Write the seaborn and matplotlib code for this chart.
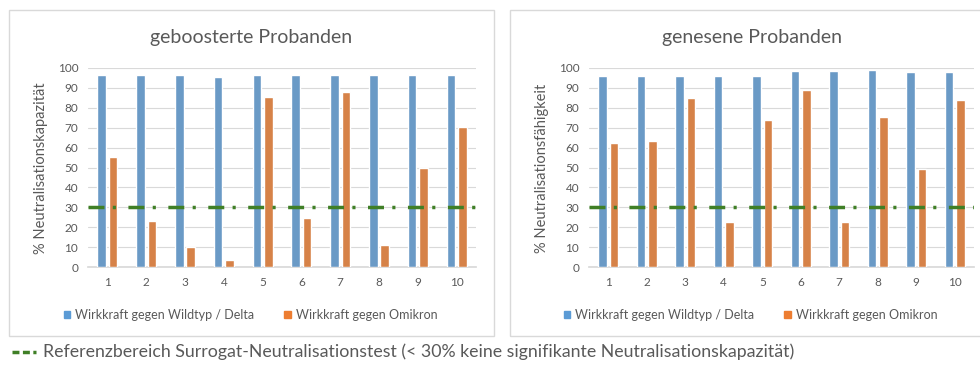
import pandas as pd
import matplotlib.pyplot as plt
import seaborn as sns
from matplotlib.patches import Rectangle
from matplotlib.lines import Line2D

sns.set_theme(style="white")
plt.rcParams['font.family'] = ['Lato', 'DejaVu Sans']

probanden = ['1', '2', '3', '4', '5', '6', '7', '8', '9', '10']
serien = ['Wirkkraft gegen Wildtyp / Delta', 'Wirkkraft gegen Omikron']

boost_delta = [96.6, 96.6, 96.6, 95.5, 96.6, 96.6, 96.6, 96.6, 96.6, 96.6]
boost_omikron = [55.5, 23, 10, 3.4, 85.2, 24.4, 87.7, 11.3, 50, 70.6]

genesen_delta = [96, 96, 96, 96, 96, 98.3, 98.3, 98.8, 98, 98]
genesen_omikron = [62.2, 63.5, 84.9, 22.7, 74, 89, 22.4, 75.6, 49, 84]

referenz = 30

titel = ['geboosterte Probanden', 'genesene Probanden']
ylabels = ['% Neutralisationskapazität', '% Neutralisationsfähigkeit']
fussnote = 'Referenzbereich Surrogat-Neutralisationstest (< 30% keine signifikante Neutralisationskapazität)'

farben = ['#5B9BD5', '#ED7D31']
gruen = '#3F7F26'
grau = '#595959'


def long_df(delta, omikron):
    return pd.DataFrame({
        'Proband': probanden * 2,
        'Wert': delta + omikron,
        'Serie': [serien[0]] * len(probanden) + [serien[1]] * len(probanden),
    })


W, H = 980, 371
fig = plt.figure(figsize=(9.8, 3.71), dpi=100)

# Rahmen der beiden Diagramme
for x0, x1 in [(9, 494), (510, 990)]:
    fig.add_artist(Rectangle((x0 / W, 1 - 336 / H), (x1 - x0) / W, (336 - 10) / H,
                             transform=fig.transFigure, fill=False,
                             edgecolor='#d9d9d9', linewidth=1))

# (daten, achse links, achse rechts, titel x, legende x, ylabel x)
panels = [
    (long_df(boost_delta, boost_omikron), 88, 476, 251, 64, 41),
    (long_df(genesen_delta, genesen_omikron), 589, 974, 752, 564, 542),
]

for i, (df, ax_x0, ax_x1, title_x, leg_x, ylab_x) in enumerate(panels):
    ax = fig.add_axes([ax_x0 / W, 1 - 267 / H, (ax_x1 - ax_x0) / W, (267 - 68) / H])
    sns.barplot(data=df, x='Proband', y='Wert', hue='Serie', palette=farben,
                width=0.58, gap=0.24, ax=ax, legend=False, zorder=3)
    ax.axhline(referenz, color=gruen, linewidth=2.5,
               linestyle=(0, (4.6, 2.4, 0.9, 3.6)), zorder=4)
    ax.set_xlim(-0.5, 9.5)
    ax.set_ylim(0, 100)
    ax.set_yticks(range(0, 101, 10))
    ax.grid(axis='y', color='#d9d9d9', linewidth=0.8, zorder=0)
    for s in ['top', 'right', 'left']:
        ax.spines[s].set_visible(False)
    ax.spines['bottom'].set_color('#d9d9d9')
    ax.tick_params(axis='both', length=0, labelsize=8.5, colors=grau, pad=7)
    ax.set_xlabel('')
    ax.set_ylabel('')
    fig.text(ylab_x / W, 1 - 168 / H, ylabels[i], rotation=90, ha='center', va='center',
             fontsize=10.5, color=grau)
    fig.text(title_x / W, 1 - 38 / H, titel[i], ha='center', va='center',
             fontsize=14, color=grau)

    handles = [Rectangle((0, 0), 1, 1, color=c) for c in farben]
    fig.legend(handles, serien, loc='center left', bbox_to_anchor=(leg_x / W, 1 - 315 / H),
               ncol=2, frameon=False, fontsize=9, labelcolor=grau,
               handlelength=0.5, handleheight=0.5, handletextpad=0.4,
               columnspacing=2.4, borderaxespad=0, borderpad=0)

# Fußnote mit Referenzlinie
fig.add_artist(Line2D([12 / W, 36 / W], [1 - 352 / H] * 2, transform=fig.transFigure,
                      color=gruen, linewidth=2.5, linestyle=(0, (2.0, 1.0))))
fig.text(43 / W, 1 - 352 / H, fussnote, ha='left', va='center', fontsize=12.8, color=grau)

plt.savefig('out.png', dpi=100)
